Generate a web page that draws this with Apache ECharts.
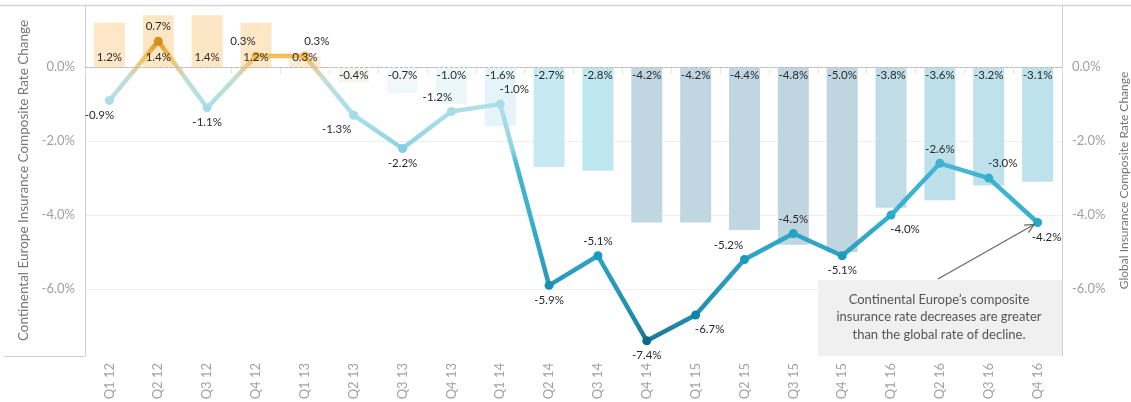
<!DOCTYPE html>
<html>
<head>
<meta charset="utf-8">
<script src="https://cdn.jsdelivr.net/npm/echarts@6/dist/echarts.min.js"></script>
<style>
  html, body { margin: 0; padding: 0; background: #fff; }
  #main { width: 1131px; height: 402px; }
</style>
</head>
<body>
<div id="main"></div>
<script>
// quarters on the x axis
var quarters = ['Q1 12', 'Q2 12', 'Q3 12', 'Q4 12', 'Q1 13', 'Q2 13', 'Q3 13', 'Q4 13', 'Q1 14', 'Q2 14',
  'Q3 14', 'Q4 14', 'Q1 15', 'Q2 15', 'Q3 15', 'Q4 15', 'Q1 16', 'Q2 16', 'Q3 16', 'Q4 16'];
// global composite rate change (bars, right axis)
var globalRate = [1.2, 1.4, 1.4, 1.2, 0.3, -0.4, -0.7, -1.0, -1.6, -2.7,
  -2.8, -4.2, -4.2, -4.4, -4.8, -5.0, -3.8, -3.6, -3.2, -3.1];
// continental europe composite rate change (line, left axis)
var europeRate = [-0.9, 0.7, -1.1, 0.3, 0.3, -1.3, -2.2, -1.2, -1.0, -5.9,
  -5.1, -7.4, -6.7, -5.2, -4.5, -5.1, -4.0, -2.6, -3.0, -4.2];
var yTicks = [-6, -4, -2, 0];
var yMin = -7.81, yMax = 1.68;

// where each line label sits relative to its point
var europeLabelSide = ['bottom', 'top', 'bottom', 'top', 'top', 'bottom', 'bottom', 'top', 'top', 'bottom',
  'top', 'bottom', 'bottom', 'top', 'top', 'bottom', 'bottom', 'top', 'top', 'bottom'];
var europeLabelShift = [-10, 0, 0, -13, 12, -17, 0, -14, 14, 0,
  0, 0, 14, -16, 0, 0, 14, 0, 14, 9];

var note = 'Continental Europe\u2019s composite\ninsurance rate decreases are greater\nthan the global rate of decline.';

// colour stops (value, colour)
var lineStops = [[-7.4, '#0a6c8d'], [-6.7, '#0e84a9'], [-5.9, '#1590b4'], [-5.1, '#1d9bbf'], [-4.5, '#22a2c4'],
  [-4.0, '#29abcb'], [-3.0, '#31afcc'], [-2.6, '#3cb4d1'], [-2.2, '#84d0e2'], [-1.3, '#a3dbe6'],
  [-0.9, '#aadde6'], [-0.3, '#bcdcd0'], [0.0, '#e3c98a'], [0.3, '#f6b84c'], [0.7, '#d4901a']];
var barStops = [[-5.0, '#bfd6e1'], [-3.9, '#c0d8e3'], [-3.7, '#bee0ea'], [-3.0, '#bee2ec'], [-2.8, '#bde6ef'],
  [-2.7, '#c6e9f2'], [-1.6, '#e4f4f8'], [-1.0, '#ebf7f9'], [-0.7, '#f0f8f9'], [-0.4, '#f4f5ef'],
  [0.0, '#fcecd6'], [1.2, '#fde7c6'], [1.4, '#fde6c4']];

function toRgb(c) {
  return [parseInt(c.substr(1, 2), 16), parseInt(c.substr(3, 2), 16), parseInt(c.substr(5, 2), 16)];
}
function ramp(stops, n) {
  var min = stops[0][0], max = stops[stops.length - 1][0];
  var out = [];
  for (var i = 0; i < n; i++) {
    var v = min + (max - min) * i / (n - 1);
    var j = 0;
    while (j < stops.length - 2 && v > stops[j + 1][0]) j++;
    var a = stops[j], b = stops[j + 1];
    var t = Math.max(0, Math.min(1, (v - a[0]) / (b[0] - a[0])));
    var ca = toRgb(a[1]), cb = toRgb(b[1]);
    out.push('rgb(' + ca.map(function (x, k) { return Math.round(x + (cb[k] - x) * t); }).join(',') + ')');
  }
  return out;
}

var fontFamily = 'Lato';
var pct = function (v) { return v.toFixed(1) + '%'; };

var dom = document.getElementById('main');
var myChart = echarts.init(dom);

// bar labels go on a transparent copy of the bars so they sit above the line
var barLabelData = globalRate.map(function (v) {
  return {
    value: v,
    label: { position: v >= 0 ? 'insideBottom' : 'insideTop', distance: v >= 0 ? 4 : 2 }
  };
});
var lineData = europeRate.map(function (v, i) {
  return {
    value: v,
    label: { position: europeLabelSide[i], offset: [europeLabelShift[i], 0] }
  };
});

option = {
  animation: false,
  textStyle: { fontFamily: fontFamily },
  grid: { left: 85, right: 69, top: 5, bottom: 46, containLabel: false, outerBoundsMode: 'none' },
  visualMap: [
    {
      type: 'continuous', show: false, seriesIndex: 0,
      min: barStops[0][0], max: barStops[barStops.length - 1][0],
      inRange: { color: ramp(barStops, 65) }
    },
    {
      type: 'continuous', show: false, seriesIndex: 1,
      min: lineStops[0][0], max: lineStops[lineStops.length - 1][0],
      inRange: { color: ramp(lineStops, 82) }
    }
  ],
  xAxis: {
    type: 'category',
    data: quarters,
    axisLine: { lineStyle: { color: '#d0d0d0', width: 1 } },
    axisTick: { show: true, length: 7, lineStyle: { color: '#e6e6e6' } },
    axisLabel: { rotate: 90, color: '#a3a3a3', fontSize: 13, margin: 7 },
    splitLine: { show: false }
  },
  yAxis: [
    {
      type: 'value',
      min: yMin, max: yMax,
      name: 'Continental Europe Insurance Composite Rate Change',
      nameLocation: 'middle', nameRotate: 90, nameGap: 52,
      nameTextStyle: { color: '#777', fontSize: 13.5 },
      axisLine: { show: true, lineStyle: { color: '#d0d0d0' } },
      axisTick: { show: false, customValues: yTicks },
      axisLabel: { customValues: yTicks, formatter: pct, color: '#a0a0a0', fontSize: 13, margin: 10 },
      splitLine: { show: true, lineStyle: { color: '#eeeeee' } }
    },
    {
      type: 'value',
      position: 'right',
      min: yMin, max: yMax,
      name: 'Global Insurance Composite Rate Change',
      nameLocation: 'middle', nameRotate: 90, nameGap: 56,
      nameTextStyle: { color: '#777', fontSize: 12 },
      axisLine: { show: true, lineStyle: { color: '#d0d0d0' } },
      axisTick: { show: false, customValues: yTicks },
      axisLabel: { customValues: yTicks, formatter: pct, color: '#a0a0a0', fontSize: 13, margin: 10 },
      splitLine: { show: false }
    }
  ],
  series: [
    {
      name: 'Global',
      type: 'bar',
      yAxisIndex: 1,
      barWidth: 31,
      data: globalRate,
      markLine: {
        silent: true,
        symbol: 'none',
        label: { show: false },
        lineStyle: { color: '#bbbbbb', type: [3, 2], width: 1 },
        data: [{ yAxis: 0 }]
      },
      emphasis: { disabled: true }
    },
    {
      name: 'Continental Europe',
      type: 'line',
      yAxisIndex: 0,
      data: lineData,
      symbol: 'circle',
      symbolSize: 9,
      lineStyle: { width: 4.5, opacity: 0.92 },
      label: {
        show: true,
        color: '#2a2a2a',
        fontSize: 11.5,
        distance: 4,
        formatter: function (p) { return pct(p.value); }
      },
      emphasis: { disabled: true }
    },
    {
      name: 'Global labels',
      type: 'bar',
      yAxisIndex: 1,
      barWidth: 31,
      barGap: '-100%',
      z: 4,
      silent: true,
      data: barLabelData,
      itemStyle: { color: 'rgba(0,0,0,0)' },
      label: {
        show: true,
        color: '#2a2a2a',
        fontSize: 11.5,
        formatter: function (p) { return pct(p.value); }
      },
      emphasis: { disabled: true }
    }
  ]
};

if (option && typeof option === 'object') {
  myChart.setOption(option, true);
}

// annotation box, arrow and frame lines
var last = europeRate.length - 1;
var tip = myChart.convertToPixel({ xAxisIndex: 0, yAxisIndex: 0 }, [last, europeRate[last]]);
var from = [938, 279];
var ang = Math.atan2(tip[1] - from[1], tip[0] - from[0]);
var end = [tip[0] - 4 * Math.cos(ang), tip[1] - 4 * Math.sin(ang)];
var head = 10, spread = 0.45;
myChart.setOption({
  graphic: [
    { type: 'line', z: 0, silent: true, shape: { x1: 0, y1: 5.5, x2: 1131, y2: 5.5 }, style: { stroke: '#d6d6d6', lineWidth: 1.5 } },
    { type: 'line', z: 0, silent: true, shape: { x1: 4, y1: 356.5, x2: 85, y2: 356.5 }, style: { stroke: '#d0d0d0', lineWidth: 1 } },
    { type: 'rect', z: 1, silent: true, shape: { x: 818, y: 280, width: 244, height: 76 }, style: { fill: '#f0f0f0' } },
    {
      type: 'text', z: 3, silent: true, x: 939, y: 317,
      style: { text: note, fill: '#555', font: '13px Lato', align: 'center', verticalAlign: 'middle', lineHeight: 17.5 }
    },
    { type: 'line', z: 5, silent: true, shape: { x1: from[0], y1: from[1], x2: end[0], y2: end[1] }, style: { stroke: '#666', lineWidth: 1.2 } },
    {
      type: 'polyline', z: 5, silent: true,
      shape: { points: [
        [end[0] - head * Math.cos(ang - spread), end[1] - head * Math.sin(ang - spread)],
        end,
        [end[0] - head * Math.cos(ang + spread), end[1] - head * Math.sin(ang + spread)]
      ] },
      style: { stroke: '#666', lineWidth: 1.2, fill: null }
    }
  ]
});
</script>
</body>
</html>
